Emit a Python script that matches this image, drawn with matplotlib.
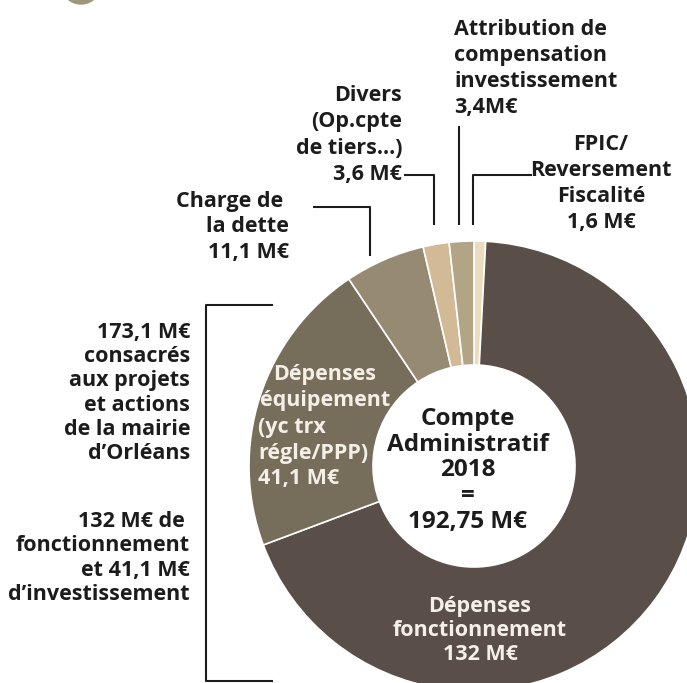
import matplotlib
matplotlib.use("Agg")
import matplotlib.pyplot as plt
from matplotlib.patches import Circle

# ---- data ----
categories = ["FPIC/Reversement Fiscalité", "Dépenses fonctionnement",
              "Dépenses équipement", "Charge de la dette",
              "Divers (Op.cpte de tiers...)",
              "Attribution de compensation investissement"]
values = [1.6, 132, 41.1, 11.1, 3.6, 3.4]
colors = ["#ecdcbe", "#594e48", "#776d5b", "#978a73", "#d3ba97", "#b1a586"]

total_label = ["Compte", "Administratif", "2018", "=", "192,75 M€"]
lbl_fpic = ["FPIC/", "Reversement", "Fiscalité", "1,6 M€"]
lbl_attr = ["Attribution de", "compensation", "investissement", "3,4M€"]
lbl_divers = ["Divers", "(Op.cpte", "de tiers...)", "3,6 M€"]
lbl_dette = ["Charge de ", "la dette", "11,1 M€"]
lbl_equip_c = ["Dépenses", "équipement"]
lbl_equip_l = ["(yc trx", "régle/PPP)", "41,1 M€"]
lbl_fonct = ["Dépenses", "fonctionnement", "132 M€"]
lbl_left1 = ["173,1 M€", "consacrés", "aux projets", "et actions",
             "de la mairie", "d’Orléans"]
lbl_left2 = ["132 M€ de ", "fonctionnement", "et 41,1 M€", "d’investissement"]

W, H = 687, 683
plt.rcParams["font.family"] = ["Open Sans", "DejaVu Sans"]
fig = plt.figure(figsize=(W / 100, H / 100), dpi=100)
ax = fig.add_axes([0, 0, 1, 1])

ax.pie(values, colors=colors, startangle=-90, counterclock=True,
       center=(474, 466), radius=225,
       wedgeprops=dict(width=124, edgecolor="white", linewidth=1.2))
ax.set_xlim(0, W)
ax.set_ylim(H, 0)
ax.set_aspect("equal")
ax.axis("off")

# decorative partial circle top-left
ax.add_patch(Circle((81, -16), 20, color="#9f977c", clip_on=True))

TXT = "#1c1c1c"
LIGHT = "#f4f0e8"


def lines(x, y0, step, texts, ha, color=TXT, size=15.5):
    for i, t in enumerate(texts):
        ax.text(x, y0 + i * step, t, ha=ha, va="baseline", color=color,
                fontsize=size, fontweight="bold")


lines(468, 425, 25.7, total_label, "center", size=17.5)
lines(601, 150, 26, lbl_fpic, "center")
lines(454, 35, 26, lbl_attr, "left")
lines(402, 101, 26.3, lbl_divers, "right")
lines(289, 207, 25.5, lbl_dette, "right")
lines(325, 380, 26, lbl_equip_c, "center", color=LIGHT)
lines(258, 433, 25.5, lbl_equip_l, "left", color=LIGHT)
lines(480, 612, 24, lbl_fonct, "center", color=LIGHT)
lines(190, 338, 24.2, lbl_left1, "right")
lines(190, 527, 24.3, lbl_left2, "right")

lk = dict(color=TXT, lw=1.5, solid_capstyle="butt")
# leader lines
ax.plot([313, 370, 370], [207, 207, 256], **lk)
ax.plot([404, 434, 434], [175, 175, 225], **lk)
ax.plot([459, 459], [126, 225], **lk)
ax.plot([532, 473, 473], [175, 175, 225], **lk)
# bracket
ax.plot([273, 206, 206, 273], [305, 305, 681, 681], **lk)

fig.savefig("out.png", dpi=100)
